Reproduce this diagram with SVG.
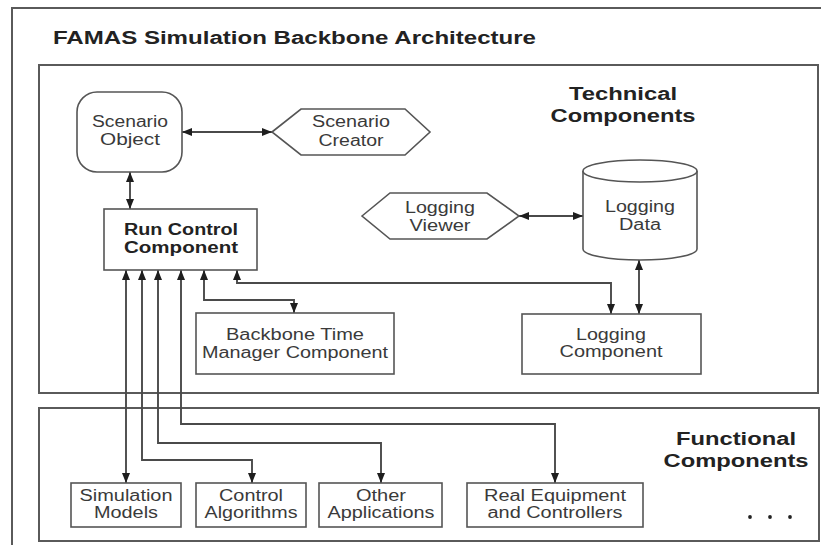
<svg xmlns="http://www.w3.org/2000/svg" width="821" height="545" viewBox="0 0 821 545">
  <style>
    .frame { fill: none; stroke: #5a5a5a; stroke-width: 2; }
    .box { fill: #ffffff; stroke: #555555; stroke-width: 1.6; }
    .link { fill: none; stroke: #4a4a4a; stroke-width: 1.9; marker-start: url(#head); marker-end: url(#head); }
    .lbl { font-family: "Liberation Sans", Arial, sans-serif; font-size: 16px; fill: #3a3a3a; text-anchor: middle; }
    .bold { font-family: "Liberation Sans", Arial, sans-serif; font-weight: bold; fill: #222222; }
    .h18 { font-size: 18px; }
    .h15 { font-size: 16px; }
    .mid { text-anchor: middle; }
  </style>
  <defs>
    <!-- solid arrowhead used at both ends of every connector -->
    <marker id="head" markerUnits="userSpaceOnUse" markerWidth="11" markerHeight="9" refX="10" refY="4" orient="auto-start-reverse">
      <path d="M0,0 L10,4 L0,8 Z" fill="#1e1e1e"/>
    </marker>
  </defs>

  <rect width="821" height="545" fill="#ffffff"/>

  <!-- outer frame and the two layers -->
  <rect class="frame" x="12" y="8" width="840" height="570"/>
  <text class="bold h18" x="53" y="44" textLength="483" lengthAdjust="spacingAndGlyphs">FAMAS Simulation Backbone Architecture</text>

  <g id="technical-layer">
    <rect class="frame" x="39" y="65" width="779" height="328"/>
    <text class="bold h18 mid" x="623" y="100" textLength="108" lengthAdjust="spacingAndGlyphs">Technical</text>
    <text class="bold h18 mid" x="623" y="122" textLength="145" lengthAdjust="spacingAndGlyphs">Components</text>
  </g>

  <g id="functional-layer">
    <rect class="frame" x="39" y="408" width="780" height="133"/>
    <text class="bold h18 mid" x="736" y="445" textLength="120" lengthAdjust="spacingAndGlyphs">Functional</text>
    <text class="bold h18 mid" x="736" y="467" textLength="145" lengthAdjust="spacingAndGlyphs">Components</text>
    <circle cx="750" cy="517" r="1.9" fill="#222222"/>
    <circle cx="770" cy="517" r="1.9" fill="#222222"/>
    <circle cx="790" cy="517" r="1.9" fill="#222222"/>
  </g>

  <!-- connectors -->
  <g id="connectors">
    <path class="link" d="M182,132 H272"/>
    <path class="link" d="M130,172 V209"/>
    <path class="link" d="M519,216 H583"/>
    <path class="link" d="M639,260 V314"/>
    <path class="link" d="M204,270 V300 H294 V313"/>
    <path class="link" d="M237,270 V283 H611 V314"/>
    <path class="link" d="M181,270 V424 H555 V483"/>
    <path class="link" d="M158,270 V443 H381 V483"/>
    <path class="link" d="M142,270 V460 H252 V483"/>
    <path class="link" d="M126,270 V483"/>
  </g>

  <g id="scenario-object">
    <rect class="box" x="77" y="92" width="105" height="80" rx="20" ry="20"/>
    <text class="lbl" x="130" y="127" textLength="76" lengthAdjust="spacingAndGlyphs">Scenario</text>
    <text class="lbl" x="130" y="145" textLength="60" lengthAdjust="spacingAndGlyphs">Object</text>
  </g>

  <g id="scenario-creator">
    <polygon class="box" points="272,132 301,109 405,109 430,132 405,155 301,155"/>
    <text class="lbl" x="351" y="127" textLength="78" lengthAdjust="spacingAndGlyphs">Scenario</text>
    <text class="lbl" x="351" y="146" textLength="65" lengthAdjust="spacingAndGlyphs">Creator</text>
  </g>

  <g id="run-control">
    <rect class="box" x="104" y="209" width="153" height="61"/>
    <text class="bold h15 mid" x="181" y="235" textLength="114" lengthAdjust="spacingAndGlyphs">Run Control</text>
    <text class="bold h15 mid" x="181" y="253" textLength="114" lengthAdjust="spacingAndGlyphs">Component</text>
  </g>

  <g id="logging-viewer">
    <polygon class="box" points="362,216 390,193 487,193 519,216 487,239 390,239"/>
    <text class="lbl" x="440" y="213" textLength="70" lengthAdjust="spacingAndGlyphs">Logging</text>
    <text class="lbl" x="440" y="231" textLength="61" lengthAdjust="spacingAndGlyphs">Viewer</text>
  </g>

  <g id="logging-data">
    <path class="box" d="M583,171 A57,11 0 0 1 697,171 V249 A57,11 0 0 1 583,249 Z"/>
    <path class="box" fill="none" d="M583,171 A57,11 0 0 0 697,171"/>
    <text class="lbl" x="640" y="212" textLength="70" lengthAdjust="spacingAndGlyphs">Logging</text>
    <text class="lbl" x="640" y="230" textLength="42" lengthAdjust="spacingAndGlyphs">Data</text>
  </g>

  <g id="time-manager">
    <rect class="box" x="196" y="313" width="198" height="61"/>
    <text class="lbl" x="295" y="340" textLength="138" lengthAdjust="spacingAndGlyphs">Backbone Time</text>
    <text class="lbl" x="295" y="358" textLength="186" lengthAdjust="spacingAndGlyphs">Manager Component</text>
  </g>

  <g id="logging-component">
    <rect class="box" x="522" y="314" width="179" height="60"/>
    <text class="lbl" x="611" y="340" textLength="70" lengthAdjust="spacingAndGlyphs">Logging</text>
    <text class="lbl" x="611" y="357" textLength="103" lengthAdjust="spacingAndGlyphs">Component</text>
  </g>

  <g id="simulation-models">
    <rect class="box" x="71" y="483" width="110" height="44"/>
    <text class="lbl" x="126" y="501" textLength="93" lengthAdjust="spacingAndGlyphs">Simulation</text>
    <text class="lbl" x="126" y="518" textLength="64" lengthAdjust="spacingAndGlyphs">Models</text>
  </g>

  <g id="control-algorithms">
    <rect class="box" x="196" y="483" width="110" height="44"/>
    <text class="lbl" x="251" y="501" textLength="64" lengthAdjust="spacingAndGlyphs">Control</text>
    <text class="lbl" x="251" y="518" textLength="93" lengthAdjust="spacingAndGlyphs">Algorithms</text>
  </g>

  <g id="other-applications">
    <rect class="box" x="319" y="483" width="123" height="44"/>
    <text class="lbl" x="381" y="501" textLength="50" lengthAdjust="spacingAndGlyphs">Other</text>
    <text class="lbl" x="381" y="518" textLength="107" lengthAdjust="spacingAndGlyphs">Applications</text>
  </g>

  <g id="real-equipment">
    <rect class="box" x="467" y="483" width="176" height="44"/>
    <text class="lbl" x="555" y="501" textLength="142" lengthAdjust="spacingAndGlyphs">Real Equipment</text>
    <text class="lbl" x="555" y="518" textLength="135" lengthAdjust="spacingAndGlyphs">and Controllers</text>
  </g>
</svg>
